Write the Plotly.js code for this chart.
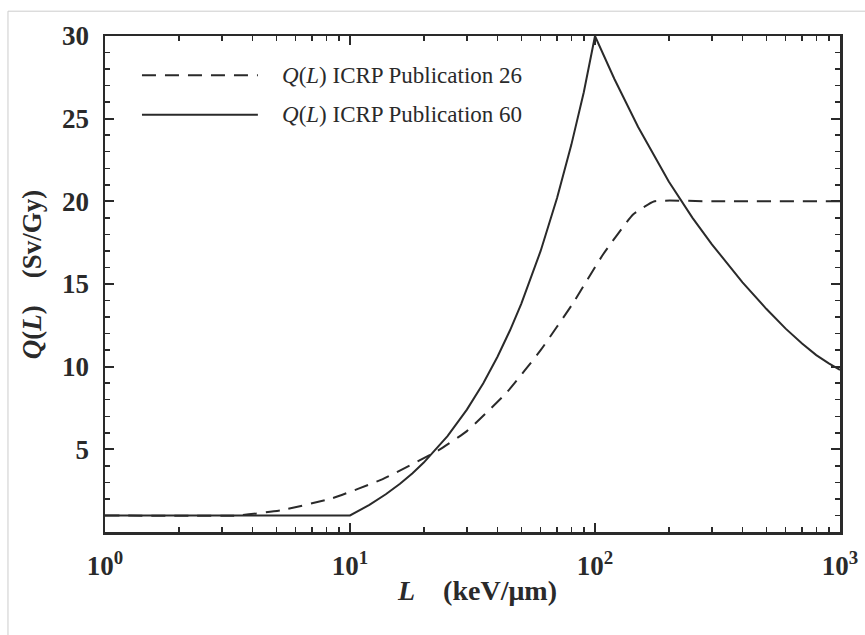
<!DOCTYPE html>
<html>
<head>
<meta charset="utf-8">
<script src="https://cdn.plot.ly/plotly-3.0.1.min.js"></script>
<style>html,body{margin:0;padding:0;background:#fff;}#chart{width:865px;height:635px;}</style>
</head>
<body>
<div id="chart"></div>
<script>
// ICRP Publication 60 Q(L) (solid)
const L60 = [1, 10, 12, 14, 16, 18, 20, 25, 30, 35, 40, 45, 50, 60, 70, 80, 90, 100, 120, 150, 200, 250, 300, 400, 500, 600, 700, 800, 900, 1000];
const Q60 = [1, 1, 1.64, 2.28, 2.92, 3.56, 4.2, 5.8, 7.4, 9.0, 10.6, 12.2, 13.8, 17.0, 20.2, 23.4, 26.6, 30, 27.4, 24.5, 21.2, 19.0, 17.4, 15.1, 13.5, 12.3, 11.4, 10.7, 10.2, 9.8];
// ICRP Publication 26 Q(L) (dashed)
const L26 = [1, 3.5, 5.3, 8.5, 13.6, 23, 30, 44, 60, 81, 108, 143, 175, 300, 1000];
const Q26 = [1, 1, 1.33, 2.05, 3.2, 4.95, 6.1, 8.5, 11.0, 13.8, 16.8, 19.2, 20, 20, 20];
// ticks
const xTickVals = [1, 10, 100, 1000];
const xTickText = ['10<sup>0</sup>', '10<sup>1</sup>', '10<sup>2</sup>', '10<sup>3</sup>'];
const yTickVals = [5, 10, 15, 20, 25, 30];
const yTickText = ['5', '10', '15', '20', '25', '30'];
const legendNames = ['<i>Q</i>(<i>L</i>) ICRP Publication 26', '<i>Q</i>(<i>L</i>) ICRP Publication 60'];
const xTitle = '<i>L</i>\u00a0\u00a0\u00a0\u00a0(keV/μm)';
const yTitle = '<i>Q</i>(<i>L</i>)\u00a0\u00a0\u00a0\u00a0(Sv/Gy)';

const ink = '#2a2a2a';
const serif = 'Liberation Serif';

const traces = [
  {x: L26, y: Q26, type: 'scatter', mode: 'lines', showlegend: false,
   line: {color: ink, width: 2, dash: '14px,9px', shape: 'spline', smoothing: 0.4}},
  {x: L60, y: Q60, type: 'scatter', mode: 'lines', showlegend: false,
   line: {color: ink, width: 2}}
];

const axisCommon = {
  showgrid: false, zeroline: false, showline: true, linecolor: ink, linewidth: 2.5,
  mirror: 'allticks', ticks: 'inside', ticklen: 9, tickwidth: 2, tickcolor: ink,
  tickfont: {family: serif, size: 27, color: ink, weight: 'bold'}, ticklabelstandoff: 8
};

const layout = {
  width: 865, height: 635,
  margin: {l: 105, r: 25, t: 36, b: 103},
  paper_bgcolor: '#fff', plot_bgcolor: '#fff',
  font: {family: serif, color: ink},
  xaxis: Object.assign({}, axisCommon, {
    type: 'log', range: [0, 3], tickmode: 'array', tickvals: xTickVals, ticktext: xTickText,
    minor: {dtick: 'D1', ticks: 'inside', ticklen: 5, tickwidth: 1.5, tickcolor: ink}
  }),
  yaxis: Object.assign({}, axisCommon, {
    range: [0, 30], tickmode: 'array', tickvals: yTickVals, ticktext: yTickText,
    minor: {dtick: 1, tick0: 0, ticks: 'inside', ticklen: 5, tickwidth: 1.5, tickcolor: ink}
  }),
  shapes: [
    {type: 'line', xref: 'paper', yref: 'paper', x0: 0.0503, x1: 0.208, y0: 0.921, y1: 0.921,
     line: {color: ink, width: 2, dash: '14px,9px'}},
    {type: 'line', xref: 'paper', yref: 'paper', x0: 0.0503, x1: 0.208, y0: 0.841, y1: 0.841,
     line: {color: ink, width: 2}},
    {type: 'line', xref: 'paper', yref: 'paper', x0: -0.132, x1: 1.04, y0: 1.05, y1: 1.05,
     line: {color: '#cccccc', width: 1}},
    {type: 'line', xref: 'paper', yref: 'paper', x0: -0.132, x1: -0.132, y0: 1.05, y1: -0.21,
     line: {color: '#cccccc', width: 1}}
  ],
  annotations: [
    {xref: 'paper', yref: 'paper', x: 0.238, y: 0.921, xanchor: 'left', yanchor: 'middle', showarrow: false,
     text: legendNames[0], font: {family: serif, size: 23, color: ink}},
    {xref: 'paper', yref: 'paper', x: 0.238, y: 0.841, xanchor: 'left', yanchor: 'middle', showarrow: false,
     text: legendNames[1], font: {family: serif, size: 23, color: ink}},
    {xref: 'paper', yref: 'paper', x: 0.506, y: -0.117, xanchor: 'center', yanchor: 'middle', showarrow: false,
     text: xTitle, font: {family: serif, size: 28, color: ink, weight: 'bold'}},
    {xref: 'paper', yref: 'paper', x: -0.099, y: 0.52, xanchor: 'center', yanchor: 'middle', showarrow: false,
     textangle: -90, text: yTitle, font: {family: serif, size: 27, color: ink, weight: 'bold'}}
  ]
};

Plotly.newPlot('chart', traces, layout, {displayModeBar: false, staticPlot: true});
</script>
</body>
</html>
